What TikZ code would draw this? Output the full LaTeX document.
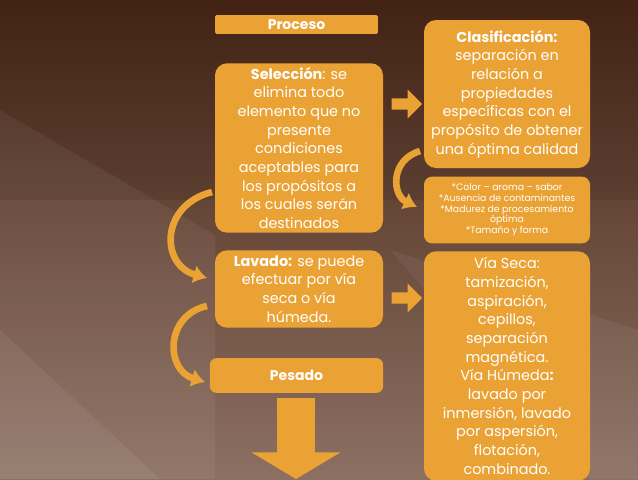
\documentclass[tikz,border=0pt]{standalone}
\usepackage{fontspec}
\setmainfont{Poppins}
\usetikzlibrary{shapes.arrows,arrows.meta}
\definecolor{org}{HTML}{EBA234}
\begin{document}
\begin{tikzpicture}[x=0.75pt,y=-0.75pt,
  box/.style={fill=org,text=white,rounded corners=9pt,align=center,inner sep=1pt,font=\fontsize{10.8}{14}\selectfont},
  curv/.style={draw=org,line width=5pt,-{Latex[length=10pt,width=14pt]}},
  blk/.style={single arrow,fill=org,minimum height=23pt,minimum width=22pt,single arrow head extend=5pt,inner sep=3pt}]
\useasboundingbox (0,0) rectangle (638,479);
\shade[top color={rgb,255:red,72;green,38;blue,22},bottom color={rgb,255:red,140;green,112;blue,98}] (0,0) rectangle (638,479);
\fill[white,opacity=0.06] (0,110) -- (215,235) -- (215,479) -- (0,479) -- cycle;
\fill[white,opacity=0.06] (0,330) -- (160,479) -- (0,479) -- cycle;
\fill[white,opacity=0.05] (390,250) -- (638,330) -- (638,479) -- (590,479) -- cycle;
\fill[black,opacity=0.08] (0,0) rectangle (638,200);
\node[box,rounded corners=1pt,minimum width=122pt,minimum height=14pt,font=\bfseries\fontsize{10.5}{12}\selectfont] (proc) at (296.5,24.5) {Proceso};
\node[box,minimum width=126pt,minimum height=127pt] (sel) at (299,148) {\textbf{Selección}: se\\elimina todo\\elemento que no\\presente\\condiciones\\aceptables para\\los propósitos a\\los cuales serán\\destinados};
\node[box,minimum width=124.5pt,minimum height=111pt] (cla) at (507,94) {\textbf{Clasificación:}\\separación en\\relación a\\propiedades\\específicas con el\\propósito de obtener\\una óptima calidad};
\node[box,rounded corners=6pt,minimum width=124.5pt,minimum height=50pt,font=\fontsize{7}{8}\selectfont] (sml) at (507,210) {*Color – aroma – sabor\\*Ausencia de contaminantes\\*Madurez de procesamiento\\óptima\\*Tamaño y forma};
\node[box,minimum width=126pt,minimum height=58pt] (lav) at (299,289) {\textbf{Lavado:} se puede\\efectuar por vía\\seca o vía\\húmeda.};
\node[box,minimum width=124.5pt,minimum height=172pt] (via) at (507,366) {Vía Seca:\\tamización,\\aspiración,\\cepillos,\\separación\\magnética.\\Vía Húmeda\textbf{:}\\lavado por\\inmersión, lavado\\por aspersión,\\flotación,\\combinado.};
\node[box,rounded corners=5pt,minimum width=130pt,minimum height=26pt,font=\bfseries\fontsize{10.5}{12}\selectfont] (pes) at (296.5,375.5) {Pesado};
\node[blk] (a1) at (404,104) {};
\node[blk] (a2) at (404,298) {};
\coordinate (d0) at (296,398);
\coordinate (d1) at (296,479);
\draw[org,line width=28pt,-{Triangle[length=20pt,width=66pt]}] (d0) -- (d1);
\coordinate (c1) at (212,192);
\coordinate (c2) at (207,278);
\draw[curv] (c1) .. controls (160,205) and (160,265) .. (c2);
\coordinate (c3) at (207,306);
\coordinate (c4) at (205,382);
\draw[curv] (c3) .. controls (165,315) and (165,370) .. (c4);
\coordinate (c5) at (420,151);
\coordinate (c6) at (417,207);
\draw[curv] (c5) .. controls (390,160) and (392,195) .. (c6);
\end{tikzpicture}
\end{document}
